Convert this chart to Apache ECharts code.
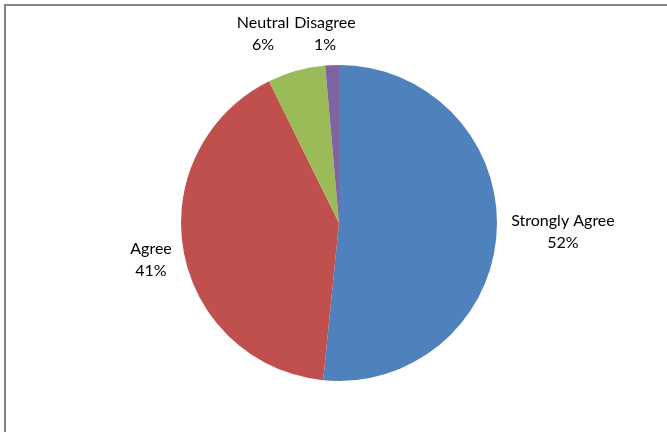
<!DOCTYPE html>
<html>
<head>
<meta charset="utf-8">
<script src="https://cdn.jsdelivr.net/npm/echarts@6/dist/echarts.min.js"></script>
<style>
html,body{margin:0;padding:0;background:#fff;}
#chart{width:667px;height:432px;}
</style>
</head>
<body>
<div id="chart"></div>
<script>
// Data
var categories = ['Strongly Agree', 'Agree', 'Neutral', 'Disagree'];
var values = [51.6, 41.1, 5.9, 1.4];
var colors = ['#4F81BD', '#C0504D', '#9BBB59', '#8064A2'];

// Label placement (layout only)
var labelCenters = [[563, 232], [151, 260], [263, 34], [325, 34]];

var chart = echarts.init(document.getElementById('chart'), null, {renderer: 'canvas'});
var data = categories.map(function (c, i) {
  return { name: c, value: values[i], itemStyle: { color: colors[i] } };
});

chart.setOption({
  animation: false,
  backgroundColor: '#ffffff',
  graphic: [{
    type: 'rect',
    shape: { x: 5, y: 5, width: 700, height: 500 },
    style: { fill: 'none', stroke: '#858585', lineWidth: 2 },
    silent: true
  }],
  series: [{
    type: 'pie',
    center: [339, 223],
    radius: [0, 158],
    startAngle: 90,
    clockwise: true,
    avoidLabelOverlap: false,
    percentPrecision: 0,
    data: data,
    itemStyle: { borderWidth: 0 },
    label: {
      show: true,
      position: 'outside',
      formatter: '{b}\n{d}%',
      fontFamily: 'Lato',
      fontSize: 16,
      lineHeight: 22,
      color: '#000000',
      align: 'center'
    },
    labelLine: { show: false },
    labelLayout: function (params) {
      var p = labelCenters[params.dataIndex];
      return { x: p[0], y: p[1], align: 'center', verticalAlign: 'middle' };
    },
    emphasis: { disabled: true }
  }]
});
</script>
</body>
</html>
